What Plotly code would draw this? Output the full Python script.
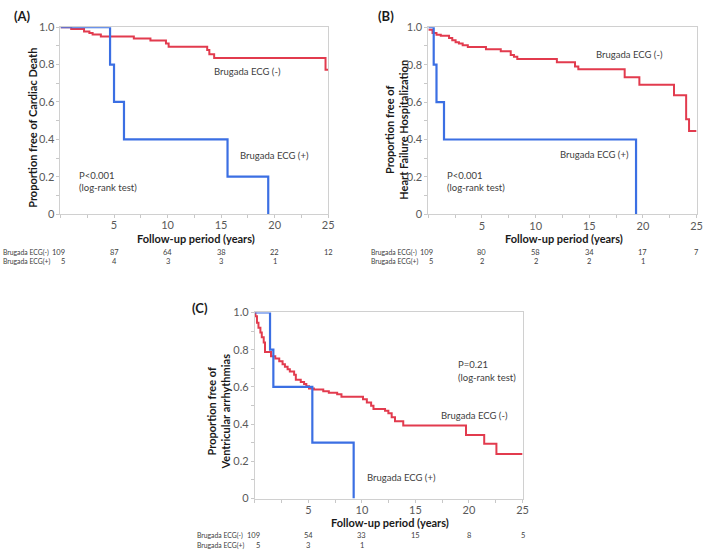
import plotly.graph_objects as go

W, H = 709, 558

# ---------------- data ----------------
# Panel A: Cardiac death
a_neg_t = [0, 1.0, 2.2, 2.7, 3.0, 3.77, 6.85, 8.4, 9.85, 10.1, 13.7, 13.9, 14.35, 24.75, 25]
a_neg_s = [1.0, 0.99, 0.977, 0.969, 0.961, 0.951, 0.939, 0.929, 0.913, 0.896, 0.878, 0.856, 0.835, 0.772, 0.772]
a_pos_t = [0, 4.63, 5.0, 5.93, 15.6, 19.4]
a_pos_s = [1.0, 0.8, 0.6, 0.4, 0.2, 0.0]

# Panel B: Heart failure hospitalization
b_neg_t = [0, 0.39, 0.76, 1.16, 1.93, 2.23, 2.54, 2.85, 3.2, 3.68, 5.37, 6.75, 7.68, 7.98, 8.29,
           11.98, 13.67, 13.98, 18.3, 19.67, 22.9, 24.03, 24.3, 25]
b_neg_s = [0.986, 0.969, 0.96, 0.955, 0.943, 0.93, 0.92, 0.913, 0.903, 0.894, 0.882, 0.872, 0.851, 0.842, 0.83,
           0.813, 0.79, 0.775, 0.732, 0.692, 0.636, 0.508, 0.446, 0.446]
b_pos_t = [0, 0.5, 0.76, 1.46, 19.36]
b_pos_s = [1.0, 0.8, 0.6, 0.4, 0.0]

# Panel C: Ventricular arrhythmias
c_neg_t = [0, 0.06, 0.2, 0.34, 0.52, 0.65, 0.83, 0.95, 1.51, 1.91, 2.28, 2.59, 2.81, 3.06, 3.27, 3.67, 3.83,
           4.29, 4.6, 4.81, 5.06, 5.52, 6.39, 6.91, 7.69, 8.09, 10.1, 10.46, 10.86, 11.08, 12.16, 12.47,
           12.78, 13.09, 13.86, 19.72, 21.42, 22.56, 25]
c_neg_s = [1.0, 0.98, 0.944, 0.918, 0.892, 0.866, 0.839, 0.787, 0.764, 0.752, 0.738, 0.722, 0.708, 0.694, 0.682,
           0.665, 0.638, 0.626, 0.616, 0.603, 0.591, 0.586, 0.577, 0.568, 0.56, 0.547, 0.533, 0.516, 0.498,
           0.481, 0.472, 0.458, 0.437, 0.416, 0.393, 0.341, 0.294, 0.24, 0.24]
c_pos_t = [0, 1.42, 1.73, 5.37, 9.23]
c_pos_s = [1.0, 0.8, 0.6, 0.3, 0.0]

# numbers at risk
risk_times = [0, 5, 10, 15, 20, 25]
a_risk_neg = ["109", "87", "64", "38", "22", "12"]
a_risk_pos = ["5", "4", "3", "3", "1", ""]
b_risk_neg = ["109", "80", "58", "34", "17", "7"]
b_risk_pos = ["5", "2", "2", "2", "1", ""]
c_risk_neg = ["109", "54", "33", "15", "8", "5"]
c_risk_pos = ["5", "3", "1", "", "", ""]

x_tick_vals = [5, 10, 15, 20, 25]
y_tick_vals = [0, 0.2, 0.4, 0.6, 0.8, 1.0]
y_tick_text = ["0", "0.2", "0.4", "0.6", "0.8", "1.0"]

RED = "#e23b4e"
BLUE = "#3b6fe3"
FONT = "Lato"

# ---------------- layout geometry (pixels) ----------------
panels = {
    # name: (x0, x1, ytop, ybot)
    "A": (61, 331, 20.7, 212.0),
    "B": (432, 702.5, 20.7, 212.3),
    "C": (257, 527, 312.7, 503.3),
}

def px(x):
    return x / W

def py(y):
    return 1 - y / H

fig = go.Figure()

axis_ids = {"A": ("x", "y"), "B": ("x2", "y2"), "C": ("x3", "y3")}
series = {
    "A": (a_neg_t, a_neg_s, a_pos_t, a_pos_s),
    "B": (b_neg_t, b_neg_s, b_pos_t, b_pos_s),
    "C": (c_neg_t, c_neg_s, c_pos_t, c_pos_s),
}

for name, (nt, ns, pt, ps) in series.items():
    xa, ya = axis_ids[name]
    fig.add_trace(go.Scatter(x=nt, y=ns, mode="lines", line=dict(color=RED, width=2, shape="hv"),
                             xaxis=xa, yaxis=ya, showlegend=False, cliponaxis=False))
    fig.add_trace(go.Scatter(x=pt, y=ps, mode="lines", line=dict(color=BLUE, width=2.2, shape="hv"),
                             xaxis=xa, yaxis=ya, showlegend=False, cliponaxis=False))

layout = dict(
    width=W, height=H,
    margin=dict(l=0, r=0, t=0, b=0),
    paper_bgcolor="white", plot_bgcolor="white",
    font=dict(family=FONT, color="#404040"),
    showlegend=False,
)

for i, name in enumerate(["A", "B", "C"]):
    x0, x1, yt, yb = panels[name]
    suffix = "" if i == 0 else str(i + 1)
    layout["xaxis" + suffix] = dict(
        domain=[px(x0), px(x1)], range=[0, 25], anchor="y" + suffix,
        tickvals=x_tick_vals, ticks="outside", ticklen=3, tickcolor="#c8c8c8",
        minor=dict(dtick=2.5, ticks="outside", ticklen=3, tickcolor="#c8c8c8"),
        showline=True, linecolor="#d0d0d0", linewidth=1, mirror=True,
        showgrid=False, zeroline=False, ticklabeloverflow="allow", ticklabelstandoff=-2,
        tickfont=dict(size=11, color="#595959", family=FONT),
    )
    layout["yaxis" + suffix] = dict(
        domain=[py(yb), py(yt)], range=[0, 1], anchor="x" + suffix,
        tickvals=y_tick_vals, ticktext=y_tick_text, ticks="outside", ticklen=3, tickcolor="#c8c8c8",
        minor=dict(dtick=0.1, ticks="outside", ticklen=3, tickcolor="#c8c8c8"),
        showline=True, linecolor="#d0d0d0", linewidth=1, mirror=True,
        showgrid=False, zeroline=False, ticklabeloverflow="allow",
        tickfont=dict(size=11, color="#595959", family=FONT),
    )

fig.update_layout(**layout)

ann = []

def text(x, y, s, size=10, bold=False, color="#404040", xanchor="left", angle=0):
    ann.append(dict(x=px(x), y=py(y), xref="paper", yref="paper", text=("<b>%s</b>" % s) if bold else s,
                    showarrow=False, xanchor=xanchor, yanchor="middle", textangle=angle,
                    font=dict(size=size, color=color, family=FONT)))

# panel labels
text(12, 9, "(A)", size=13, bold=True, color="#1a1a1a")
text(379, 9, "(B)", size=13, bold=True, color="#1a1a1a")
text(192, 308, "(C)", size=13, bold=True, color="#1a1a1a")

# y-axis titles
text(32, 124, "Proportion free of Cardiac Death", size=11, bold=True, color="#1a1a1a", xanchor="center", angle=-90)
text(399, 126, "Proportion free of<br>Heart Failure Hospitalization", size=11, bold=True, color="#1a1a1a",
     xanchor="center", angle=-90)
text(220, 414, "Proportion free of<br>Ventricular arrhythmias", size=11, bold=True, color="#1a1a1a",
     xanchor="center", angle=-90)

# x-axis titles
text(198, 237, "Follow-up period (years)", size=11, bold=True, color="#1a1a1a", xanchor="center")
text(569, 237, "Follow-up period (years)", size=11, bold=True, color="#1a1a1a", xanchor="center")
text(393, 528, "Follow-up period (years)", size=11, bold=True, color="#1a1a1a", xanchor="center")

# in-plot labels
text(214, 66, "Brugada ECG (-)", size=9.5)
text(240, 152, "Brugada ECG (+)", size=9.5)
text(78, 173, "P<0.001", size=9.5)
text(78, 185, "(log-rank test)", size=9.5)

text(599, 49, "Brugada ECG (-)", size=9.5)
text(563, 151, "Brugada ECG (+)", size=9.5)
text(449, 173, "P<0.001", size=9.5)
text(449, 185, "(log-rank test)", size=9.5)

text(460, 366, "P=0.21", size=9.5)
text(460, 379, "(log-rank test)", size=9.5)
text(443, 418, "Brugada ECG (-)", size=9.5)
text(368, 482, "Brugada ECG (+)", size=9.5)

# risk tables
risk = {
    "A": (a_risk_neg, a_risk_pos, 251, 261),
    "B": (b_risk_neg, b_risk_pos, 251, 261),
    "C": (c_risk_neg, c_risk_pos, 541.5, 551.5),
}
for name, (rn, rp, y1, y2) in risk.items():
    x0, x1, yt, yb = panels[name]
    xa, ya = axis_ids[name]
    text(x0 - 60, y1, "Brugada ECG(-)", size=6.8)
    text(x0 - 60, y2, "Brugada ECG(+)", size=6.8)
    for row, yy in ((rn, y1), (rp, y2)):
        for t, v in zip(risk_times, row):
            if not v:
                continue
            ann.append(dict(x=t, y=py(yy), xref=xa, yref="paper", text=v, showarrow=False,
                            xanchor="right" if t == 0 else "center", xshift=7 if t == 0 else 0,
                            yanchor="middle", font=dict(size=7.5, color="#404040", family=FONT)))

fig.update_layout(annotations=ann)
fig.write_html(
    "out.html",
    config={"displayModeBar": False},
    post_script="document.body.style.margin='0';document.body.style.overflow='hidden';",
)
